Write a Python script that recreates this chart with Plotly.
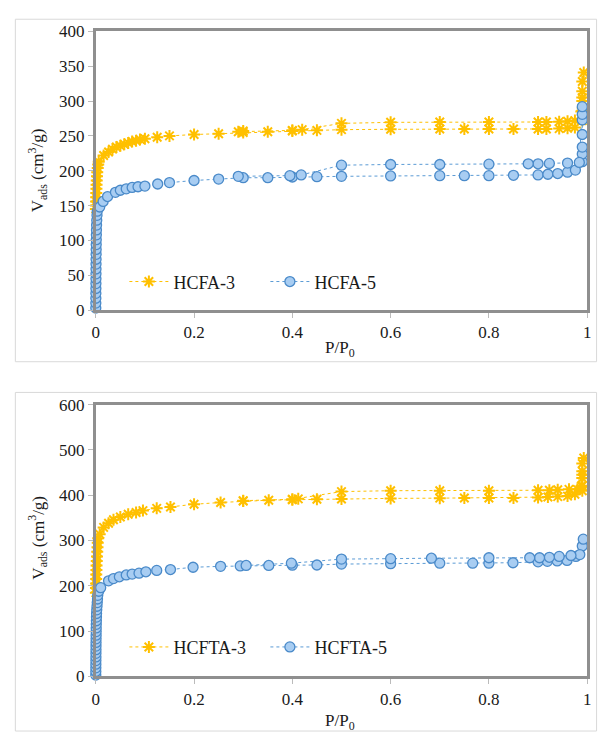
import plotly.graph_objects as go

# ---------------- data ----------------
# Top panel: HCFA-3 (adsorption + desorption, in measured order)
x_hcfa3 = [0.0002, 0.0004, 0.0006, 0.0008, 0.001, 0.0013, 0.0016, 0.002, 0.0025, 0.003, 0.004, 0.005, 0.006,
           0.016, 0.026, 0.034, 0.042, 0.05, 0.058, 0.066, 0.074, 0.082, 0.09, 0.1, 0.125, 0.15, 0.2, 0.25,
           0.3, 0.35, 0.4, 0.45, 0.5, 0.6, 0.7, 0.75, 0.8, 0.85, 0.9, 0.917, 0.943, 0.96, 0.975,
           0.99, 0.99, 0.99, 0.99, 0.99, 0.993,
           0.99, 0.988, 0.975, 0.96, 0.943, 0.917, 0.9, 0.8, 0.7, 0.6, 0.5, 0.42, 0.4, 0.3, 0.29]
v_hcfa3 = [145, 150, 156, 162, 168, 174, 180, 186, 192, 198, 204, 209, 213,
           222, 227, 231, 234, 236, 238, 240, 242, 243, 245, 246, 248, 250, 252, 253,
           255, 256, 257, 258, 259, 259.5, 260, 260, 260, 260, 260, 260, 260.5, 261, 262,
           272, 286, 300, 314, 328, 341,
           305, 285, 272, 271, 270.5, 270, 270, 270, 270, 269.5, 268, 259, 258, 257, 256]

# Top panel: HCFA-5
x_hcfa5 = [0.00005, 0.0001, 0.00015, 0.0002, 0.00025, 0.0003, 0.00035, 0.0004, 0.00045, 0.0005, 0.0006,
           0.0007, 0.0008, 0.0009, 0.001, 0.0012, 0.0014, 0.0016, 0.002, 0.0025, 0.003,
           0.008, 0.015, 0.024, 0.04, 0.05, 0.062, 0.074, 0.086, 0.1, 0.126, 0.15, 0.2, 0.25, 0.3, 0.35,
           0.4, 0.45, 0.5, 0.6, 0.7, 0.75, 0.8, 0.85, 0.9, 0.92, 0.94, 0.96, 0.976,
           0.99, 0.99, 0.99, 0.99, 0.99, 0.99, 0.99,
           0.984, 0.96, 0.923, 0.9, 0.88, 0.8, 0.7, 0.6, 0.5, 0.418, 0.395, 0.29]
v_hcfa5 = [3, 10, 17, 24, 31, 38, 45, 52, 59, 66, 73,
           80, 87, 94, 101, 108, 115, 122, 129, 136, 142,
           148, 156, 163, 169, 172, 174, 176, 177, 178, 181, 183, 186, 188, 190, 190,
           191, 191.5, 192, 192.5, 193, 193, 193, 193.5, 194, 195, 196, 198, 201,
           213, 224, 234, 252, 273, 281, 292,
           212, 211, 210.5, 210, 210, 209.5, 209, 209, 208, 194, 193, 192]

# Bottom panel: HCFTA-3
x_hcfta3 = [0.0002, 0.0004, 0.0006, 0.0008, 0.001, 0.0013, 0.0016, 0.002, 0.0025, 0.003, 0.0035, 0.004, 0.005,
            0.008, 0.016, 0.026, 0.036, 0.05, 0.066, 0.082, 0.096, 0.124, 0.152, 0.2, 0.254, 0.3, 0.352,
            0.4, 0.45, 0.5, 0.6, 0.7, 0.75, 0.8, 0.85, 0.9, 0.92, 0.94, 0.96, 0.975,
            0.99, 0.99, 0.99, 0.99, 0.99, 0.993,
            0.99, 0.988, 0.98, 0.963, 0.94, 0.923, 0.9, 0.8, 0.7, 0.6, 0.5, 0.412, 0.4, 0.3]
v_hcfta3 = [185, 195, 205, 215, 225, 235, 245, 255, 265, 275, 285, 295, 305,
            314, 329, 338, 346, 352, 358, 362, 366, 371, 374, 380, 384, 387, 389,
            390, 391, 391.5, 393, 393.5, 394, 394, 394, 395, 396, 397, 398, 402,
            410, 421, 438, 453, 470, 482,
            445, 420, 413, 413, 412, 411, 411, 410, 410, 410, 408, 392, 391, 388]

# Bottom panel: HCFTA-5
x_hcfta5 = [0.00005, 0.0001, 0.00015, 0.0002, 0.00025, 0.0003, 0.00035, 0.0004, 0.00045, 0.0005, 0.0006,
            0.0007, 0.0008, 0.0009, 0.001, 0.0012, 0.0014, 0.0016, 0.002, 0.0025, 0.003, 0.0035, 0.004,
            0.006, 0.01, 0.026, 0.036, 0.048, 0.062, 0.074, 0.088, 0.102, 0.124, 0.152, 0.198, 0.254,
            0.294, 0.352, 0.4, 0.45, 0.5, 0.6, 0.7, 0.767, 0.8, 0.849, 0.9, 0.919, 0.939, 0.959, 0.977,
            0.99, 0.992,
            0.985, 0.967, 0.943, 0.923, 0.903, 0.883, 0.8, 0.683, 0.6, 0.5, 0.398, 0.306]
v_hcfta5 = [3, 11, 19, 27, 35, 43, 51, 59, 67, 75, 83,
            91, 99, 107, 115, 123, 131, 139, 147, 155, 163, 171, 179,
            188, 196, 211, 216, 220, 224, 226, 228, 231, 234, 236, 241, 243,
            244, 245, 245.5, 246, 248, 249, 250, 250, 250, 251, 253, 254, 255, 256, 265,
            288, 303,
            269, 267, 265, 263, 262, 262, 262, 261, 260, 259, 250, 245]

x_ticks = [0, 0.2, 0.4, 0.6, 0.8, 1]
y_ticks_top = [0, 50, 100, 150, 200, 250, 300, 350, 400]
y_ticks_bottom = [0, 100, 200, 300, 400, 500, 600]

# ---------------- styling ----------------
W, H = 606, 742
FONT = "Times New Roman, Liberation Serif, DejaVu Serif, serif"
GOLD = "#FFC000"
BLUE_LINE = "#5B9BD5"
BLUE_FILL = "#A8CDF2"
BLUE_EDGE = "#4A8AC9"
AXIS_COL = "#8F8F8F"
TXT = "#1a1a1a"


def px_x(p):
    return p / W


def px_y(p):
    return 1 - p / H


fig = go.Figure()

gold_marker = dict(symbol="asterisk-open", size=10, color=GOLD, line=dict(color=GOLD, width=2))
blue_marker = dict(symbol="circle", size=10, color=BLUE_FILL, line=dict(color=BLUE_EDGE, width=1.3))

fig.add_trace(go.Scatter(x=x_hcfa3, y=v_hcfa3, name="HCFA-3", mode="lines+markers",
                         line=dict(color=GOLD, width=1, dash="dot"), marker=gold_marker,
                         xaxis="x", yaxis="y", legend="legend", cliponaxis=False))
fig.add_trace(go.Scatter(x=x_hcfa5, y=v_hcfa5, name="HCFA-5", mode="lines+markers",
                         line=dict(color=BLUE_LINE, width=1, dash="dot"), marker=blue_marker,
                         xaxis="x", yaxis="y", legend="legend", cliponaxis=False))
fig.add_trace(go.Scatter(x=x_hcfta3, y=v_hcfta3, name="HCFTA-3", mode="lines+markers",
                         line=dict(color=GOLD, width=1, dash="dot"), marker=gold_marker,
                         xaxis="x2", yaxis="y2", legend="legend2", cliponaxis=False))
fig.add_trace(go.Scatter(x=x_hcfta5, y=v_hcfta5, name="HCFTA-5", mode="lines+markers",
                         line=dict(color=BLUE_LINE, width=1, dash="dot"), marker=blue_marker,
                         xaxis="x2", yaxis="y2", legend="legend2", cliponaxis=False))

tickfont = dict(family=FONT, size=17, color=TXT)
common_x = dict(range=[0, 1], tickmode="array", tickvals=x_ticks, showgrid=False, zeroline=False,
                showline=True, linecolor=AXIS_COL, linewidth=2.5, mirror=True, ticks="outside",
                ticklen=5, tickcolor="#BBBBBB", tickfont=tickfont, domain=[px_x(93), px_x(591)])
common_y = dict(showgrid=False, zeroline=False, showline=True, linecolor=AXIS_COL, linewidth=2.5,
                mirror=True, ticks="outside", ticklen=5, tickcolor="#BBBBBB", tickfont=tickfont,
                tickmode="array")

legend_common = dict(orientation="h", bgcolor="rgba(0,0,0,0)", font=dict(family=FONT, size=18, color=TXT),
                     xanchor="left", yanchor="middle", entrywidth=87, entrywidthmode="pixels",
                     itemwidth=39, itemclick=False, itemdoubleclick=False)

title_font = dict(family=FONT, size=17, color=TXT)

fig.update_layout(
    width=W, height=H, margin=dict(l=0, r=0, t=0, b=0),
    paper_bgcolor="white", plot_bgcolor="white",
    font=dict(family=FONT, color=TXT),
    xaxis=dict(**common_x, anchor="y"),
    yaxis=dict(**common_y, range=[0, 400], tickvals=y_ticks_top, anchor="x", domain=[px_y(309), px_y(23)]),
    xaxis2=dict(**common_x, anchor="y2"),
    yaxis2=dict(**common_y, range=[0, 600], tickvals=y_ticks_bottom, anchor="x2", domain=[px_y(685), px_y(406)]),
    legend=dict(**legend_common, x=px_x(122), y=px_y(280)),
    legend2=dict(**legend_common, x=px_x(122), y=px_y(655)),
    shapes=[
        dict(type="rect", xref="paper", yref="paper", x0=px_x(11.5), x1=px_x(600.5), y0=px_y(362), y1=px_y(10.5),
             line=dict(color="#D9D9D9", width=1), layer="below"),
        dict(type="rect", xref="paper", yref="paper", x0=px_x(11.5), x1=px_x(600.5), y0=px_y(741), y1=px_y(393.5),
             line=dict(color="#D9D9D9", width=1), layer="below"),
    ],
    annotations=[
        dict(text="V<sub>ads</sub> (cm<sup>3</sup>/g)", xref="paper", yref="paper", x=px_x(34), y=px_y(166),
             xanchor="center", yanchor="middle", showarrow=False, textangle=-90, font=title_font),
        dict(text="V<sub>ads</sub> (cm<sup>3</sup>/g)", xref="paper", yref="paper", x=px_x(34), y=px_y(543),
             xanchor="center", yanchor="middle", showarrow=False, textangle=-90, font=title_font),
        dict(text="P/P<sub>0</sub>", xref="paper", yref="paper", x=px_x(340), y=px_y(349),
             xanchor="center", yanchor="middle", showarrow=False, font=title_font),
        dict(text="P/P<sub>0</sub>", xref="paper", yref="paper", x=px_x(340), y=px_y(732),
             xanchor="center", yanchor="middle", showarrow=False, font=title_font),
    ],
)

fig.write_html("out.html")
